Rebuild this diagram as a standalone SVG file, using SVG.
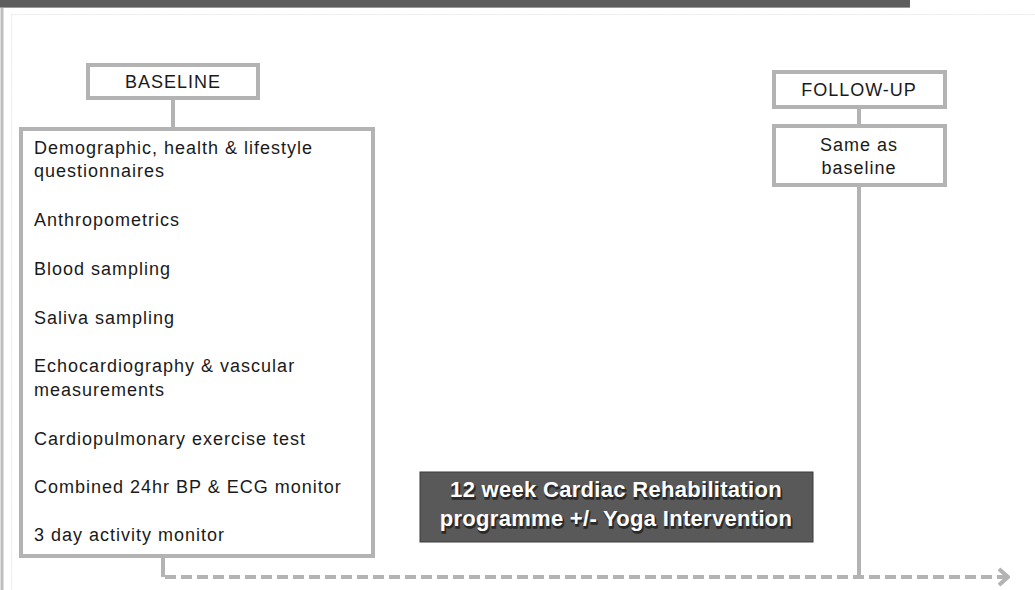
<svg xmlns="http://www.w3.org/2000/svg" width="1035" height="590" viewBox="0 0 1035 590">
<style>
.box{fill:#ffffff;stroke:#b3b3b3;stroke-width:4}
.t{font-family:"Liberation Sans",Arial,sans-serif;font-size:18px;fill:#1a1a1a;letter-spacing:1px}
.c{text-anchor:middle}
.ln{stroke:#b3b3b3;stroke-width:4;fill:none}
.wt{font-family:"Liberation Sans",Arial,sans-serif;font-size:22px;font-weight:bold;fill:#ffffff;text-anchor:middle;letter-spacing:0.3px}
.sh{font-family:"Liberation Sans",Arial,sans-serif;font-size:22px;font-weight:bold;fill:#2a2a2a;stroke:#2a2a2a;stroke-width:1.5;text-anchor:middle;letter-spacing:0.3px}
</style>
<defs>
<marker id="arr" viewBox="0 0 12 20" refX="10" refY="10" markerWidth="12" markerHeight="20" markerUnits="userSpaceOnUse" orient="auto">
<path d="M1,2 L10,10 L1,18" fill="none" stroke="#b3b3b3" stroke-width="4"/>
</marker>
</defs>
<rect width="1035" height="590" fill="#ffffff"/>
<g id="frame">
<rect x="0" y="0" width="910" height="7" fill="#5d5d5d"/>
<line x1="0" y1="7.5" x2="910" y2="7.5" stroke="#9a9a9a" stroke-width="1"/>
<line x1="2" y1="8" x2="2" y2="590" stroke="#bdbdbd" stroke-width="3"/>
<line x1="11.5" y1="14.5" x2="1035" y2="14.5" stroke="#e6e6e6" stroke-width="1" stroke-dasharray="2,1"/>
<line x1="11.5" y1="14.5" x2="11.5" y2="590" stroke="#e6e6e6" stroke-width="1" stroke-dasharray="2,1"/>
</g>
<g id="connectors">
<line class="ln" x1="173" y1="99" x2="173" y2="129"/>
<line class="ln" x1="859" y1="109" x2="859" y2="126"/>
<polyline class="ln" points="859,186 859,577 857,577"/>
<line class="ln" x1="163" y1="557" x2="163" y2="577"/>
<line class="ln" x1="165" y1="577" x2="1008" y2="577" stroke-dasharray="11,5" marker-end="url(#arr)"/>
</g>
<g id="baseline">
<rect class="box" x="88" y="65" width="170" height="33"/>
<text class="t c" x="173" y="88">BASELINE</text>
</g>
<g id="baseline-measures">
<rect class="box" x="21" y="129" width="352" height="427"/>
<text class="t" x="34" y="154">Demographic, health &amp; lifestyle</text>
<text class="t" x="34" y="177">questionnaires</text>
<text class="t" x="34" y="226">Anthropometrics</text>
<text class="t" x="34" y="275">Blood sampling</text>
<text class="t" x="34" y="324">Saliva sampling</text>
<text class="t" x="34" y="372">Echocardiography &amp; vascular</text>
<text class="t" x="34" y="396">measurements</text>
<text class="t" x="34" y="445">Cardiopulmonary exercise test</text>
<text class="t" x="34" y="493">Combined 24hr BP &amp; ECG monitor</text>
<text class="t" x="34" y="541">3 day activity monitor</text>
</g>
<g id="followup">
<rect class="box" x="774" y="72" width="171" height="35"/>
<text class="t c" x="859" y="96">FOLLOW-UP</text>
</g>
<g id="followup-measures">
<rect class="box" x="774" y="126" width="171" height="59"/>
<text class="t c" x="859" y="151">Same as</text>
<text class="t c" x="859" y="174">baseline</text>
</g>
<g id="intervention">
<rect x="420" y="472" width="393" height="70" fill="#595959" stroke="#3a3a3a" stroke-width="1"/>
<text class="sh" x="617" y="498.5">12 week Cardiac Rehabilitation</text>
<text class="sh" x="617" y="527.5">programme +/- Yoga Intervention</text>
<text class="wt" x="616" y="497">12 week Cardiac Rehabilitation</text>
<text class="wt" x="616" y="526">programme +/- Yoga Intervention</text>
</g>
</svg>
